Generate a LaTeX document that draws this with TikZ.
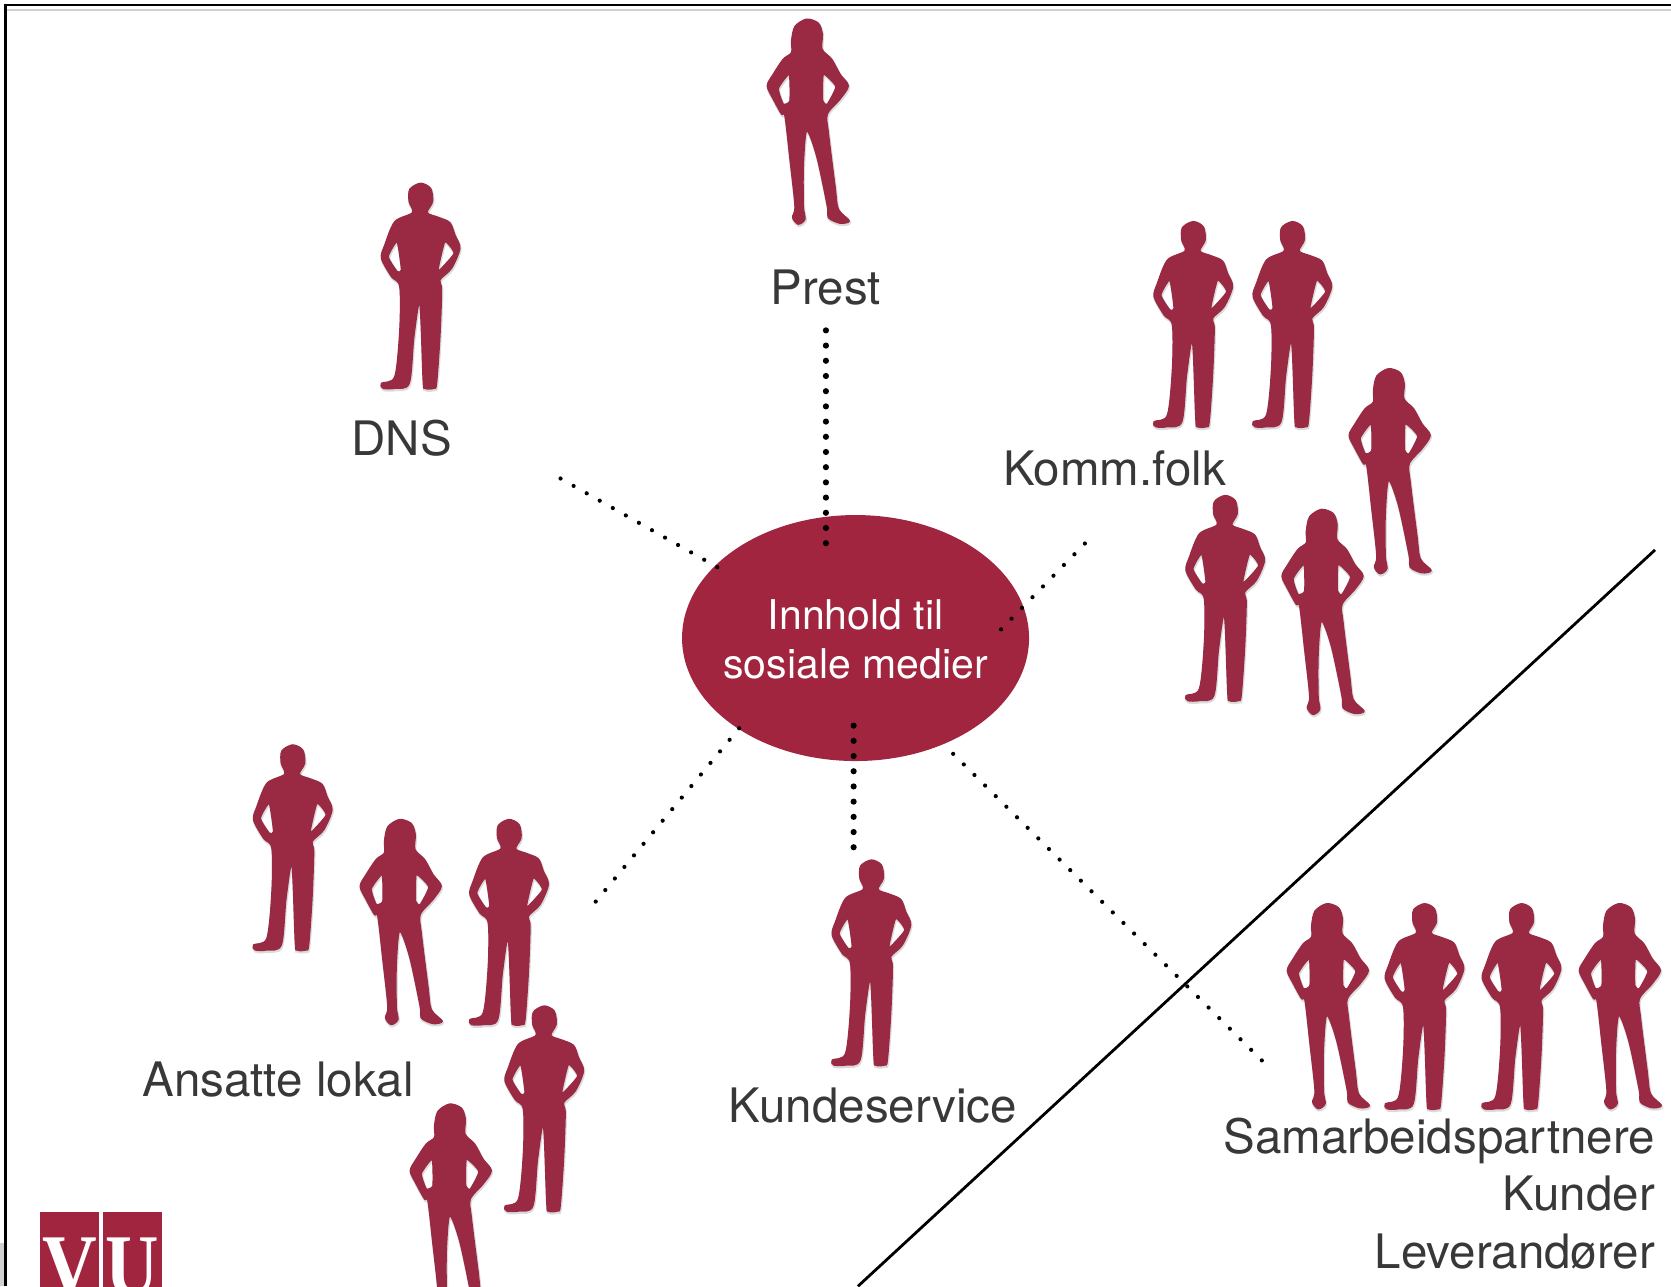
\documentclass[tikz,border=0pt]{standalone}
\usepackage{fontspec}
\usepackage{graphicx}
\usetikzlibrary{shapes.geometric}
\setmainfont{TeX Gyre Heros}
\newfontfamily\serifvu{Liberation Serif}
\definecolor{vured}{HTML}{A1253F}
\definecolor{figred}{HTML}{9A2A43}
\tikzset{
  figshape/.style={fill=figred,draw=figred,line width=1.4pt,even odd rule,line join=round,
    preaction={draw=black!14,line width=2.6pt,transform canvas={xshift=.6pt,yshift=-1.6pt}}},
  lbl/.style={font=\fontsize{47.5pt}{58pt}\selectfont,text=black!78,inner sep=0pt},
  fine/.style={line width=4.2pt,line cap=round,dash pattern=on 0pt off 15pt,black},
  bold/.style={line width=6.2pt,line cap=round,dash pattern=on 0pt off 15.2pt,black},
  logoletter/.style={text=white,font=\serifvu\bfseries\fontsize{88pt}{88pt}\selectfont,inner sep=0pt,anchor=base},
  manfig/.pic={
    \begin{scope}[x=.3333pt,y=-.3333pt,shift={(-65,-40)}]
    \path[figshape] plot[smooth cycle,tension=.5] coordinates {(182,40)(212,55)(218,95)(202,128)(235,142)(270,158)(285,195)(300,235)(275,295)(240,330)(245,360)(240,500)(230,640)(222,655)(195,655)(190,630)(180,400)(162,500)(148,640)(105,655)(70,655)(65,640)(105,620)(120,480)(120,350)(95,320)(65,265)(75,225)(105,155)(158,128)(148,95)(150,58)}
    plot[smooth cycle,tension=.3] coordinates {(112,215)(85,260)(112,305)(125,300)}
    plot[smooth cycle,tension=.3] coordinates {(255,215)(283,250)(240,300)(235,295)};
    \end{scope}
  },
  womanfig/.pic={
    \begin{scope}[x=.3333pt,y=-.3333pt,shift={(-82,-60)}]
    \path[figshape] plot[smooth cycle,tension=.5] coordinates {(200,60)(235,72)(247,105)(246,150)(275,180)(300,225)(325,260)(300,300)(262,345)(265,400)(285,560)(295,630)(328,665)(300,672)(265,655)(262,620)(230,470)(200,395)(190,500)(190,620)(195,660)(175,675)(158,655)(165,620)(150,480)(135,350)(125,345)(100,300)(82,260)(100,225)(130,180)(155,160)(155,125)(165,82)}
    plot[smooth cycle,tension=.3] coordinates {(148,225)(115,268)(130,315)(150,305)}
    plot[smooth cycle,tension=.3] coordinates {(250,225)(288,262)(262,315)(248,305)};
    \end{scope}
  }
}
\begin{document}
\begin{tikzpicture}[x=1.0657pt,y=-1.0657pt]
\useasboundingbox (0pt,0pt) rectangle (1671pt,-1286pt);
\clip (0pt,0pt) rectangle (1671pt,-1286pt);
% frame
\fill[black!18] (0pt,-1243pt) rectangle (5pt,-1286pt);
\draw[black,line width=2.2pt] (5.5pt,-1286pt) -- (5.5pt,-5pt) -- (1671pt,-5pt);
\fill[black!18] (6.5pt,-9pt) rectangle (1671pt,-10.5pt);
% figures
\pic at (720,18) {womanfig};
\pic at (358,172) {manfig};
\pic at (1083,208) {manfig};
\pic at (1176,208) {manfig};
\pic at (1266,346) {womanfig};
\pic at (1113,465) {manfig};
\pic at (1203,478) {womanfig};
\pic at (238,699) {manfig};
\pic at (338,769) {womanfig};
\pic at (441,769) {manfig};
\pic at (474,944) {manfig};
\pic at (385,1036) {womanfig};
\pic at (781,807) {manfig};
\pic at (1208,848) {womanfig};
\pic at (1300,848) {manfig};
\pic at (1391,848) {manfig};
\pic at (1482,848) {womanfig};
% labels
\node[lbl,anchor=base] (prest) at (775,286) {Prest};
\node[lbl,anchor=base] (dns) at (377,427) {DNS};
\node[lbl,anchor=base] (komm) at (1046,456) {Komm.folk};
\node[lbl,anchor=base] (ansatte) at (261,1029) {Ansatte lokal};
\node[lbl,anchor=base] (kunde) at (819,1053) {Kundeservice};
\node[lbl,anchor=base east] (sam) at (1553,1082) {Samarbeidspartnere};
\node[lbl,anchor=base east] (kunder) at (1553,1136) {Kunder};
\node[lbl,anchor=base east] (lev) at (1553,1190) {Leverandører};
% centre
\node[ellipse,fill=vured,minimum width=347pt,minimum height=246pt,inner sep=0pt] (hub) at (802.8,598.7) {};
\node[align=center,text=white,inner sep=0pt,font=\fontsize{41pt}{49pt}\selectfont] (hubtext) at (802.8,600) {Innhold til\\sosiale medier};
% connectors
\coordinate (prestA) at (775,310);
\coordinate (prestB) at (775,515);
\coordinate (dnsA) at (526,449);
\coordinate (dnsB) at (678,535);
\coordinate (kommA) at (1018,510);
\coordinate (kommB) at (935,595);
\coordinate (ansA) at (559,846);
\coordinate (ansB) at (698,678);
\coordinate (kunA) at (801,795);
\coordinate (kunB) at (801,675);
\coordinate (samA) at (1184,995);
\coordinate (samB) at (890,703);
\coordinate (divA) at (1553,516);
\coordinate (divB) at (805,1207);
\draw[bold] (prestA) -- (prestB);
\draw[bold] (kunA) -- (kunB);
\draw[fine] (dnsA) -- (dnsB);
\draw[fine] (kommA) -- (kommB);
\draw[fine] (ansA) -- (ansB);
\draw[fine] (samA) -- (samB);
\draw[black,line width=2.8pt] (divA) -- (divB);
% logo
\fill[vured] (40pt,-1212pt) rectangle (99pt,-1290pt);
\fill[vured] (103pt,-1212pt) rectangle (162pt,-1290pt);
\node[logoletter] (logoV) at (69.5pt,-1295pt) {\scalebox{.86}[1]{V}};
\node[logoletter] (logoU) at (132pt,-1295pt) {\scalebox{.84}[1]{U}};
\end{tikzpicture}
\end{document}
